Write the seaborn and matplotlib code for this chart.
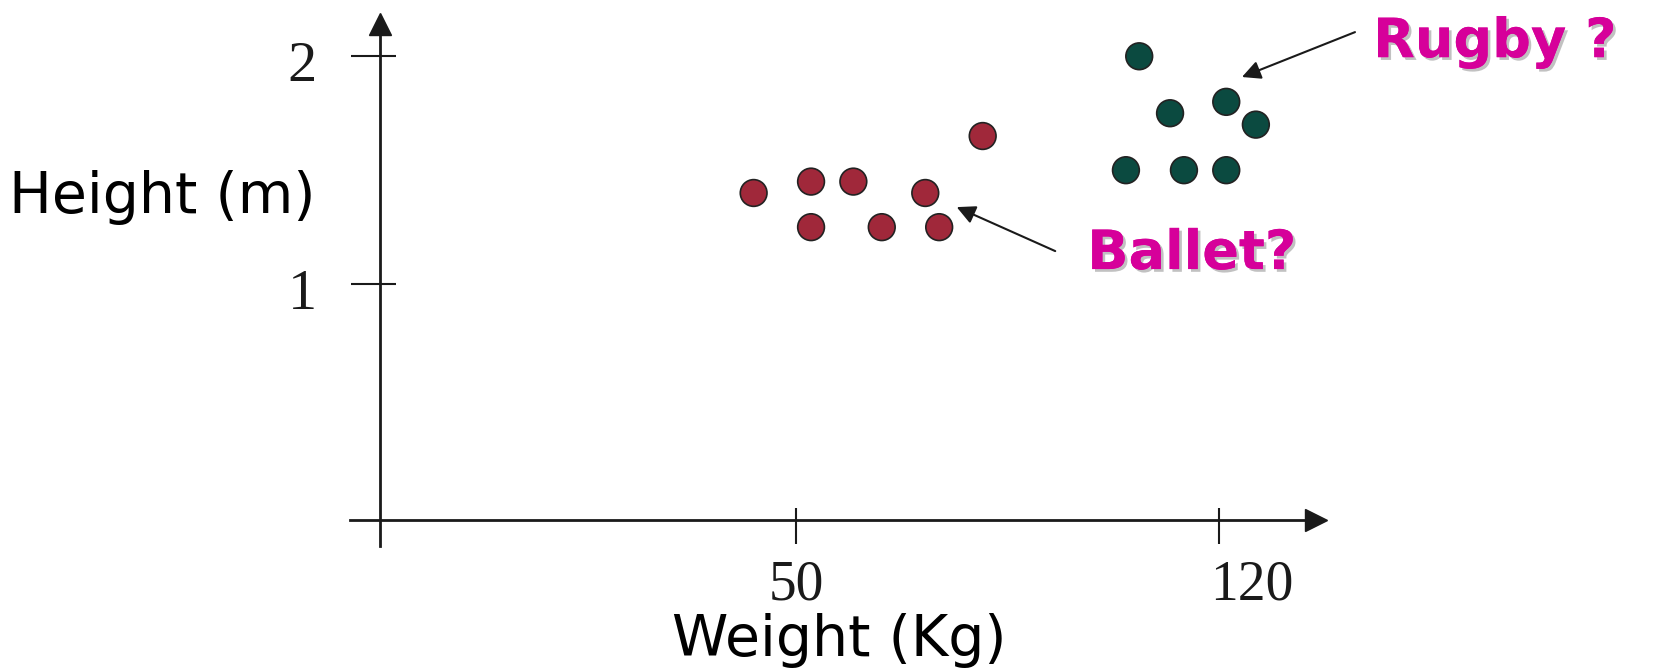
import matplotlib
matplotlib.use("Agg")
import matplotlib.pyplot as plt
import matplotlib.patheffects as pe
import matplotlib.transforms as mtransforms
import seaborn as sns
import pandas as pd

# Data
ballet_weight = [43.0, 52.5, 59.5, 71.4, 80.9, 52.5, 64.2, 73.7]
ballet_height = [1.40, 1.45, 1.45, 1.40, 1.65, 1.25, 1.25, 1.25]
rugby_weight = [106.8, 111.9, 121.2, 126.1, 104.6, 114.2, 121.2]
rugby_height = [2.00, 1.75, 1.80, 1.70, 1.50, 1.50, 1.50]

x_ticks = [50, 120]
y_ticks = [1, 2]

df = pd.concat([
    pd.DataFrame({"weight": ballet_weight, "height": ballet_height, "group": "Ballet"}),
    pd.DataFrame({"weight": rugby_weight, "height": rugby_height, "group": "Rugby"}),
])

sns.set_style("white")
plt.rcParams["font.family"] = ["DejaVu Sans"]
plt.rcParams["text.color"] = "black"
plt.rcParams["axes.labelcolor"] = "black"
plt.rcParams["xtick.color"] = "#1a1a1a"
plt.rcParams["ytick.color"] = "#1a1a1a"

fig = plt.figure(figsize=(16.62, 6.71), dpi=100)
ax = fig.add_axes([0, 0, 1, 1])

sns.scatterplot(data=df, x="weight", y="height", hue="group",
                palette={"Ballet": "#a0283a", "Rugby": "#0b4a40"},
                s=370, edgecolor="#222222", linewidth=1.2, legend=False, ax=ax)

# axes cross away from the origin, like the hand drawn original
x0, y0 = -18.9, -0.037
ax.set_xlim(-81.7, 193.3)
ax.set_ylim(-0.698, 2.247)

for side in ["top", "right"]:
    ax.spines[side].set_visible(False)
ax.spines["left"].set_position(("data", x0))
ax.spines["bottom"].set_position(("data", y0))
ax.spines["left"].set_bounds(-0.15, 2.13)
ax.spines["bottom"].set_bounds(-23.8, 135.0)
for side in ["left", "bottom"]:
    ax.spines[side].set_linewidth(2)
    ax.spines[side].set_color("#1a1a1a")

# arrow heads at the ends of the axes
ax.plot(136.0, y0, marker=">", color="#1a1a1a", markersize=16, clip_on=False)
ax.plot(x0, 2.141, marker="^", color="#1a1a1a", markersize=16, clip_on=False)

# ticks stick out further on the outside than the inside
ax.xaxis.remove_overlapping_locs = False
ax.yaxis.remove_overlapping_locs = False
ax.set_xticks(x_ticks)
ax.set_yticks(y_ticks)
ax.set_xticks(x_ticks, minor=True)
ax.set_yticks(y_ticks, minor=True)
ax.tick_params(which="both", bottom=True, left=True, width=1.5)
ax.tick_params(axis="x", which="major", direction="out", length=17, pad=11,
               labelsize=40, labelfontfamily="Liberation Serif")
ax.tick_params(axis="y", which="major", direction="out", length=21, pad=24,
               labelsize=42, labelfontfamily="Liberation Serif")
ax.tick_params(axis="x", which="minor", direction="in", length=9)
ax.tick_params(axis="y", which="minor", direction="in", length=11.5)

# the 120 label sits a bit right of its tick in the original
for lab in ax.get_xticklabels():
    if lab.get_text() == "120":
        lab.set_transform(lab.get_transform() + mtransforms.ScaledTranslation(0.33, 0, fig.dpi_scale_trans))
for lab in ax.get_yticklabels():
    lab.set_transform(lab.get_transform() + mtransforms.ScaledTranslation(0, -0.05, fig.dpi_scale_trans))

ax.set_xlabel("Weight (Kg)", fontsize=41, va="center")
ax.xaxis.set_label_coords(0.505, 0.046)
ax.set_ylabel("Height (m)", fontsize=41, rotation=0, ha="right", va="center")
ax.yaxis.set_label_coords(0.19, 0.706)

shadow = [pe.withSimplePatchShadow(offset=(2, -2), shadow_rgbFace="#999999", alpha=0.6), pe.Normal()]
ax.text(98.2, 1.132, "Ballet?", fontsize=39, fontweight="bold", color="#d6009a",
        ha="left", va="center", path_effects=shadow)
ax.text(145.5, 2.062, "Rugby ?", fontsize=39, fontweight="bold", color="#d6009a",
        ha="left", va="center", path_effects=shadow)

arrow_style = dict(arrowstyle="-|>", color="#1a1a1a", lw=1.5, mutation_scale=28, shrinkA=0, shrinkB=0)
ax.annotate("", xy=(76.6, 1.338), xytext=(92.9, 1.145), arrowprops=arrow_style)
ax.annotate("", xy=(123.8, 1.909), xytext=(142.5, 2.106), arrowprops=arrow_style)

fig.savefig("out.png", dpi=100)
